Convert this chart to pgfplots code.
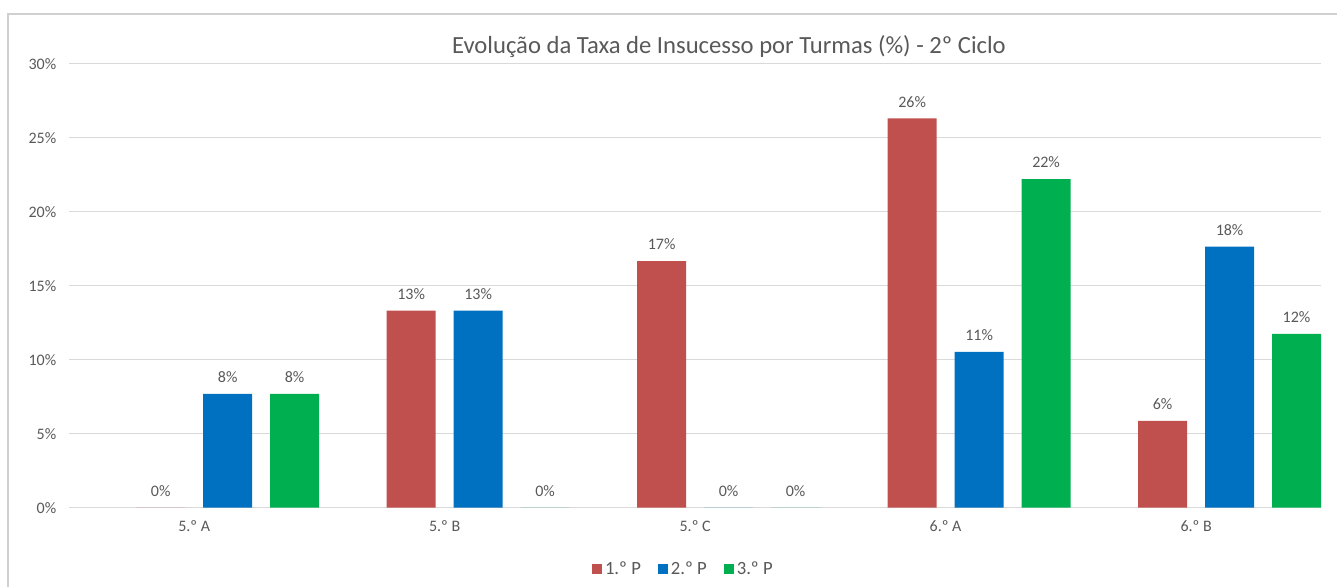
\documentclass[border=0pt]{standalone}
\usepackage{pgfplots}
\pgfplotsset{compat=1.18}
\usepackage{fontspec}
\setmainfont{Carlito}
\definecolor{cA}{HTML}{C0504D}
\definecolor{cB}{HTML}{0070C0}
\definecolor{cC}{HTML}{00B050}
\definecolor{gridc}{HTML}{D9D9D9}
\definecolor{textc}{HTML}{595959}
\definecolor{framec}{HTML}{D0D0D0}
\begin{document}
\begin{tikzpicture}
\path (-51.75pt,-59.25pt) rectangle (951.75pt,381pt);
\draw[framec, line width=1pt] (-45.75pt,-59.25pt) -- (-45.75pt,370.5pt) -- (951.75pt,370.5pt);
\begin{axis}[
  at={(0pt,0pt)}, anchor=south west,
  scale only axis, width=939.75pt, height=333pt,
  /pgf/number format/assume math mode=true,
  ybar, bar width=36.75pt,
  xmin=-0.5, xmax=4.5, ymin=0, ymax=30,
  xtick={0,1,2,3,4},
  xticklabels={5.º A,5.º B,5.º C,6.º A,6.º B},
  ytick={0,5,...,30},
  yticklabel={\pgfmathprintnumber{\tick}\%},
  axis x line*=bottom, axis y line*=left,
  y axis line style={draw=none},
  x axis line style={draw=gridc, line width=0.75pt},
  major tick length=0pt,
  ymajorgrids, grid style={gridc, line width=0.75pt},
  tick label style={font=\fontsize{12}{14}\selectfont, text=textc},
  yticklabel style={anchor=east, xshift=-6pt},
  xticklabel style={anchor=center, yshift=-14pt},
  title={Evolução da Taxa de Insucesso por Turmas (\%) - 2º Ciclo},
  title style={at={(0.527,1.021)}, anchor=center, font=\fontsize{18.5}{22}\selectfont, text=textc},
  nodes near coords={\pgfmathprintnumber[fixed,precision=0]{\pgfplotspointmeta}\%},
  every node near coord/.append style={font=\fontsize{12}{14}\selectfont, text=textc, anchor=base, yshift=8.5pt},
  legend style={draw=none, at={(0.491,-0.139)}, anchor=center, font=\fontsize{14}{17}\selectfont, text=textc,
    /tikz/every even column/.append style={column sep=11pt}},
  legend columns=-1,
  legend image code/.code={\fill[#1] (0pt,-3.75pt) rectangle (7.5pt,3.75pt);},
]
\addplot[fill=cA, draw=none, bar shift=-25.125pt] coordinates {(0,0) (1,13.33) (2,16.67) (3,26.32) (4,5.88)};
\addplot[fill=cB, draw=none, bar shift=25.125pt] coordinates {(0,7.69) (1,13.33) (2,0) (3,10.53) (4,17.65)};
\addplot[fill=cC, draw=none, bar shift=75.375pt] coordinates {(0,7.69) (1,0) (2,0) (3,22.22) (4,11.76)};
\legend{1.º P,2.º P,3.º P}
\end{axis}
\end{tikzpicture}
\end{document}
